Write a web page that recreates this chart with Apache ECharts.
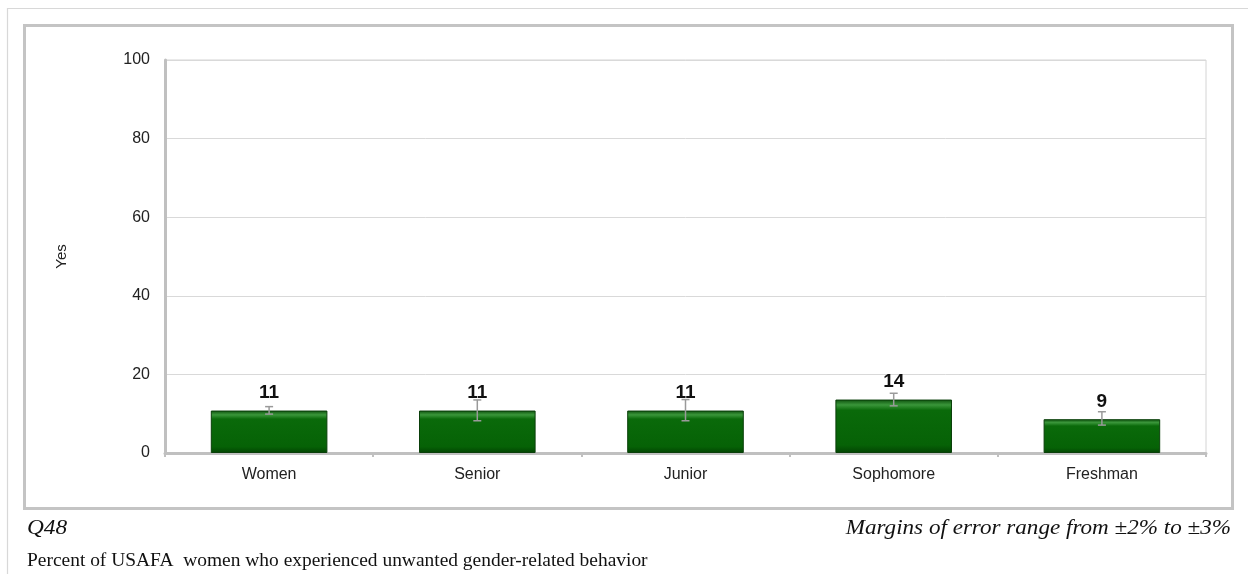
<!DOCTYPE html>
<html>
<head>
<meta charset="utf-8">
<style>html,body{margin:0;padding:0;background:#fff;}#c{width:1248px;height:574px;}</style>
<script src="https://cdn.jsdelivr.net/npm/echarts@6/dist/echarts.min.js"></script>
</head>
<body>
<div id="c"></div>
<script>
const categories = ['Women', 'Senior', 'Junior', 'Sophomore', 'Freshman'];
const values = [10.8, 10.8, 10.8, 13.6, 8.6];
const labels = ['11', '11', '11', '14', '9'];
const errLow = [9.9, 8.2, 8.2, 12.0, 7.1];
const errHigh = [11.8, 13.5, 13.6, 15.2, 10.5];
const yTicks = [0, 20, 40, 60, 80, 100];

const chart = echarts.init(document.getElementById('c'), null, {renderer: 'canvas'});
const sans = '"Liberation Sans", Arial, sans-serif';
const serif = '"Liberation Serif", "Times New Roman", serif';

chart.setOption({
  animation: false,
  grid: {left: 165, right: 42, top: 60, bottom: 121, show: true, borderColor: '#d4d4d4', borderWidth: 1, backgroundColor: 'transparent'},
  graphic: [
    {type: 'rect', shape: {x: 7.5, y: 8.5, width: 1300, height: 700}, style: {fill: 'none', stroke: '#d8d8d8', lineWidth: 1.2}, silent: true, z: -1},
    {type: 'rect', shape: {x: 24.5, y: 25.5, width: 1208, height: 483}, style: {fill: 'none', stroke: '#c4c4c4', lineWidth: 3}, silent: true, z: -1},
    {type: 'text', x: 27, y: 528, scaleX: 1.06, style: {text: 'Q48', font: 'italic 22px ' + serif, fill: '#111', textVerticalAlign: 'middle'}},
    {type: 'text', x: 1231, y: 528, scaleX: 1.05, style: {text: 'Margins of error range from \u00b12% to \u00b13%', font: 'italic 22px ' + serif, fill: '#111', textAlign: 'right', textVerticalAlign: 'middle'}},
    {type: 'text', x: 27, y: 561, scaleX: 1.08, style: {text: 'Percent of USAFA  women who experienced unwanted gender-related behavior', font: '18px ' + serif, fill: '#111', textVerticalAlign: 'middle'}}
  ],
  xAxis: {
    type: 'category',
    data: categories,
    axisLine: {lineStyle: {color: '#c0c0c0', width: 3}},
    axisTick: {show: true, length: 4, lineStyle: {color: '#c0c0c0', width: 2}},
    axisLabel: {color: '#222', fontFamily: sans, fontSize: 16, margin: 14}
  },
  yAxis: {
    type: 'value',
    min: 0, max: 100, interval: 20,
    name: 'Yes',
    nameLocation: 'middle',
    nameGap: 96,
    nameRotate: 90,
    nameTextStyle: {color: '#222', fontFamily: sans, fontSize: 15},
    axisLine: {show: true, lineStyle: {color: '#c0c0c0', width: 3}},
    axisTick: {show: false},
    axisLabel: {color: '#222', fontFamily: sans, fontSize: 16, margin: 15,
      formatter: v => yTicks.indexOf(v) >= 0 ? String(v) : ''},
    splitLine: {lineStyle: {color: '#d9d9d9', width: 1}}
  },
  series: [
    {
      type: 'bar',
      data: values,
      barWidth: '56%',
      itemStyle: {
        color: new echarts.graphic.LinearGradient(0, 0, 0, 1, [
          {offset: 0, color: '#0d500d'},
          {offset: 0.1, color: '#3a963a'},
          {offset: 0.2, color: '#0a6a0a'},
          {offset: 0.85, color: '#066206'},
          {offset: 1, color: '#024402'}
        ]),
        borderColor: '#0a3f0a',
        borderWidth: 1
      },
      label: {
        show: true, position: 'top', distance: 8,
        formatter: p => labels[p.dataIndex],
        color: '#111', fontFamily: sans, fontWeight: 'bold', fontSize: 19
      },
      z: 2
    },
    {
      type: 'custom',
      data: categories.map((c, i) => [i, errLow[i], errHigh[i]]),
      renderItem: function (params, api) {
        const x = api.value(0);
        const lo = api.coord([x, api.value(1)]);
        const hi = api.coord([x, api.value(2)]);
        const cx = lo[0];
        const style = {stroke: '#9a9a9a', lineWidth: 1.5};
        return {
          type: 'group',
          children: [
            {type: 'line', shape: {x1: cx, y1: lo[1], x2: cx, y2: hi[1]}, style: style},
            {type: 'line', shape: {x1: cx - 4, y1: lo[1], x2: cx + 4, y2: lo[1]}, style: style},
            {type: 'line', shape: {x1: cx - 4, y1: hi[1], x2: cx + 4, y2: hi[1]}, style: style}
          ]
        };
      },
      z: 3
    }
  ]
});
</script>
</body>
</html>
